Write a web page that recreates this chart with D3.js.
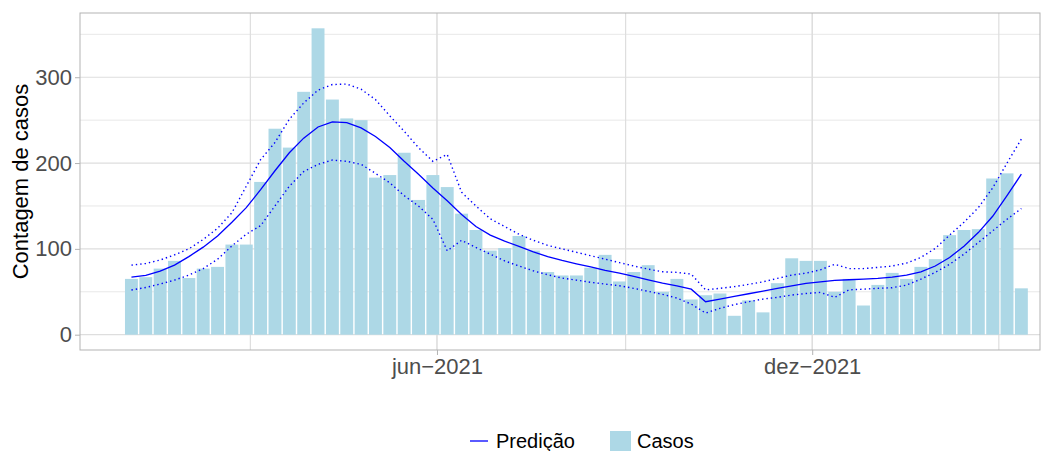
<!DOCTYPE html>
<html>
<head>
<meta charset="utf-8">
<script src="https://cdn.jsdelivr.net/npm/d3@7"></script>
<style>
  body { margin: 0; background: #fff; }
  svg { display: block; font-family: "Liberation Sans", Arial, sans-serif; }
</style>
</head>
<body>
<div id="chart"></div>
<script>
// weekly case counts (epi weeks starting 2021-01-03)
var firstWeek = "2021-01-03";
var casos = [65, 67, 77, 86, 66, 77, 79, 105, 105, 178, 240, 218, 283, 357, 274, 252, 250, 183,
  186, 212, 157, 186, 172, 141, 122, 98, 101, 115, 98, 73, 69, 69, 78, 93, 62, 73, 81, 50,
  65, 41, 46, 48, 22, 40, 26, 60, 89, 86, 86, 50, 65, 34, 58, 72, 65, 79, 88, 116, 122, 123,
  182, 188, 54];

// model prediction and its interval
var predicao = [67, 69, 74, 81, 91, 102, 115, 131, 148, 169, 191, 212, 229, 242, 248, 247,
  241, 231, 218, 202, 187, 171, 156, 140, 126, 116, 109, 103, 96.5, 91, 86.5, 82.6, 79, 75,
  71.7, 68, 64, 60, 57, 53, 38.4, 41.5, 44.6, 47.7, 50.8, 54, 57, 59.7, 61.6, 63.2, 64, 64.8,
  65.5, 67, 69.4, 73.3, 80, 90, 103, 119, 138, 162, 187];
var superior = [81, 83, 87, 93, 100, 111, 124, 142, 173, 204, 224, 251, 270, 285, 291.5, 292,
  286, 274, 255, 237, 218, 202, 210, 166, 150, 135, 126, 117, 110, 104, 100, 96, 92, 88, 84,
  80, 76.4, 73.3, 72.6, 70.6, 52.3, 54, 56, 58.6, 61.6, 65.6, 69.4, 71.7, 75.6, 82, 77, 77,
  78.4, 80, 83.4, 90, 100.5, 116, 131, 148, 171, 200, 228];
var inferior = [52, 55, 59, 63.6, 69.4, 77, 88, 103.5, 117, 127, 150, 173, 190, 198.5, 203.5,
  202, 198.5, 188, 177, 162, 150, 134.5, 97.7, 110, 101.6, 93.8, 86, 80, 74.4, 69.8, 66, 63.6,
  61, 59, 57, 54, 50.5, 47, 42.7, 35.7, 25.2, 30.7, 35, 38.4, 41.5, 43.5, 46.2, 48, 49.3, 43.5,
  52.3, 53, 54, 54.7, 57.8, 64.8, 72.6, 82, 93.8, 107.4, 121, 134.5, 147];

var yTicks = [0, 100, 200, 300];
var yMinor = [50, 150, 250, 350];
var xTickDates = ["2021-06-01", "2021-12-01"];
var xTickLabels = ["jun\u22122021", "dez\u22122021"];
var xMinorDates = ["2021-03-02", "2021-09-01", "2022-03-02"];

var W = 1064, H = 451;
var margin = {left: 80, right: 1040, top: 13, bottom: 350};

var parse = d3.utcParse("%Y-%m-%d");
var DAY = 864e5;
var start = parse(firstWeek);
var weeks = casos.map(function(d, i) { return new Date(+start + i * 7 * DAY); });

var x = d3.scaleUtc()
  .domain([new Date(Date.UTC(2020, 11, 8, 22)), new Date(Date.UTC(2022, 2, 22, 2))])
  .range([margin.left, margin.right]);
var y = d3.scaleLinear()
  .domain([-17.85, 374.85])
  .range([margin.bottom, margin.top]);

var svg = d3.select("#chart").append("svg")
  .attr("width", W)
  .attr("height", H);

var gridColor = "#dedede";

// minor grid
svg.append("g").selectAll("line").data(yMinor).enter().append("line")
  .attr("x1", margin.left).attr("x2", margin.right)
  .attr("y1", function(d) { return y(d); }).attr("y2", function(d) { return y(d); })
  .attr("stroke", gridColor).attr("stroke-width", 0.7);
svg.append("g").selectAll("line").data(xMinorDates).enter().append("line")
  .attr("y1", margin.top).attr("y2", margin.bottom)
  .attr("x1", function(d) { return x(parse(d)); }).attr("x2", function(d) { return x(parse(d)); })
  .attr("stroke", gridColor).attr("stroke-width", 1.2);

// major grid
svg.append("g").selectAll("line").data(yTicks).enter().append("line")
  .attr("x1", margin.left).attr("x2", margin.right)
  .attr("y1", function(d) { return y(d); }).attr("y2", function(d) { return y(d); })
  .attr("stroke", gridColor).attr("stroke-width", 1.2);
svg.append("g").selectAll("line").data(xTickDates).enter().append("line")
  .attr("y1", margin.top).attr("y2", margin.bottom)
  .attr("x1", function(d) { return x(parse(d)); }).attr("x2", function(d) { return x(parse(d)); })
  .attr("stroke", gridColor).attr("stroke-width", 1.6);

// bars
var half = 0.45 * 7 * DAY;
svg.append("g").selectAll("rect").data(casos).enter().append("rect")
  .attr("x", function(d, i) { return x(new Date(+weeks[i] - half)); })
  .attr("width", function(d, i) { return x(new Date(+weeks[i] + half)) - x(new Date(+weeks[i] - half)); })
  .attr("y", function(d) { return y(d); })
  .attr("height", function(d) { return y(0) - y(d); })
  .attr("fill", "#add8e6");

// prediction lines
var line = d3.line()
  .x(function(d, i) { return x(weeks[i]); })
  .y(function(d) { return y(d); });

svg.append("path").datum(superior)
  .attr("d", line).attr("fill", "none")
  .attr("stroke", "#0000ff").attr("stroke-width", 1.4)
  .attr("stroke-dasharray", "1.4,3");
svg.append("path").datum(inferior)
  .attr("d", line).attr("fill", "none")
  .attr("stroke", "#0000ff").attr("stroke-width", 1.4)
  .attr("stroke-dasharray", "1.4,3");
svg.append("path").datum(predicao)
  .attr("d", line).attr("fill", "none")
  .attr("stroke", "#0000ff").attr("stroke-width", 1.3);

// panel border
svg.append("rect")
  .attr("x", margin.left).attr("y", margin.top)
  .attr("width", margin.right - margin.left).attr("height", margin.bottom - margin.top)
  .attr("fill", "none").attr("stroke", "#b3b3b3").attr("stroke-width", 1);

// axes
var yAxis = svg.append("g")
  .attr("transform", "translate(" + margin.left + ",0)")
  .call(d3.axisLeft(y).tickValues(yTicks).tickSize(5).tickPadding(3));
var xAxis = svg.append("g")
  .attr("transform", "translate(0," + margin.bottom + ")")
  .call(d3.axisBottom(x)
    .tickValues(xTickDates.map(parse))
    .tickFormat(function(d, i) { return xTickLabels[i]; })
    .tickSize(5).tickPadding(3));

[yAxis, xAxis].forEach(function(g) {
  g.select(".domain").remove();
  g.selectAll(".tick line").attr("stroke", "#b3b3b3");
  g.selectAll(".tick text")
    .attr("fill", "#4d4d4d")
    .attr("font-size", 22)
    .attr("font-family", "Liberation Sans, Arial, sans-serif");
});

svg.append("text")
  .attr("transform", "translate(28," + ((margin.top + margin.bottom) / 2) + ") rotate(-90)")
  .attr("text-anchor", "middle")
  .attr("font-size", 22)
  .attr("fill", "#000")
  .text("Contagem de casos");

// legend
var legend = svg.append("g");
legend.append("line")
  .attr("x1", 470).attr("x2", 488).attr("y1", 441).attr("y2", 441)
  .attr("stroke", "#0000ff").attr("stroke-width", 1.3);
legend.append("text")
  .attr("x", 496).attr("y", 448)
  .attr("font-size", 20).attr("fill", "#000")
  .text("Predi\u00e7\u00e3o");
legend.append("rect")
  .attr("x", 610).attr("y", 431).attr("width", 21).attr("height", 21)
  .attr("fill", "#add8e6");
legend.append("text")
  .attr("x", 637).attr("y", 448)
  .attr("font-size", 20).attr("fill", "#000")
  .text("Casos");
</script>
</body>
</html>
